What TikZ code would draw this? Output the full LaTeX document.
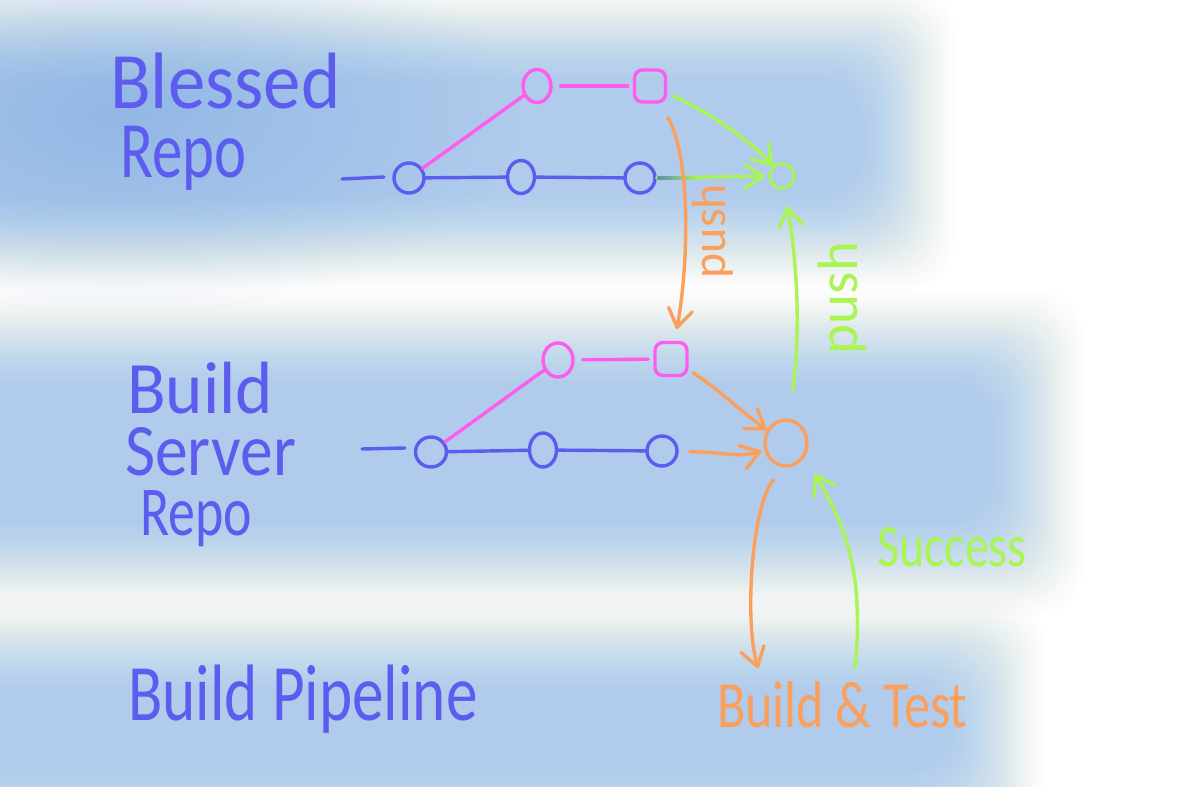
\documentclass[tikz,border=0pt]{standalone}
\usepackage{graphicx}
\usepackage{fontspec}
\setmainfont{Carlito}
\usetikzlibrary{arrows.meta,fadings,shapes.geometric,calc}
\definecolor{ink}{RGB}{92,92,238}
\definecolor{pinkink}{RGB}{255,92,238}
\definecolor{greenink}{RGB}{168,245,84}
\definecolor{orangeink}{RGB}{250,160,92}
\definecolor{bandcol}{RGB}{170,203,236}
\definecolor{spotcol}{RGB}{110,160,222}
\definecolor{mixink}{RGB}{100,140,175}
\tikzfading[name=softspot, inner color=transparent!0, outer color=transparent!100]
\newcommand{\softband}[4]{%
  \foreach \k in {1,...,50}{%
    \pgfmathsetmacro{\tA}{(\k-1)/50}%
    \pgfmathsetmacro{\tB}{\k/50}%
    \pgfmathsetmacro{\fA}{0.8*(3*\tA*\tA-2*\tA*\tA*\tA)}%
    \pgfmathsetmacro{\fB}{0.8*(3*\tB*\tB-2*\tB*\tB*\tB)}%
    \pgfmathsetmacro{\op}{(\fB-\fA)/(1-\fA)}%
    \fill[bandcol, opacity=\op, rounded corners=50pt] (#1+\k*2,#2+\k*2) rectangle (#3-\k*2,#4-\k*2);
  }}
\begin{document}
\begin{tikzpicture}[x=1pt,y=-1pt,
  ln/.style={line width=3.4pt, line cap=round, line join=round},
  arr/.style={ln, -{Straight Barb[length=18pt,width=24pt,round]}},
  bnode/.style={ellipse, draw=ink, ln, inner sep=0pt},
  pnode/.style={ellipse, draw=pinkink, ln, inner sep=0pt},
  psq/.style={rectangle, rounded corners=8pt, draw=pinkink, ln, inner sep=0pt},
  lbl/.style={text=ink, inner sep=0pt, anchor=base west},
  stack/.style={text=ink, inner sep=0pt, anchor=north west, align=left},
  bigfont/.style={font=\fontsize{80}{80}\selectfont}
]
\fill[white] (0,0) rectangle (1181,787);
\useasboundingbox (0,0) rectangle (1181,787);
% background bands
\softband{-150}{-20}{960}{295}
\softband{-150}{285}{1090}{620}
\softband{-150}{590}{1050}{870}
\fill[spotcol, opacity=0.45, path fading=softspot] (-280,-85) rectangle (520,315);

% labels
\node[stack, font=\fontsize{80}{69}\selectfont] (tBlessedRepo) at (110,48)
  {\rule{0pt}{60pt}\scalebox{0.935}[1]{Blessed}\\\hspace*{10pt}\scalebox{0.76}[1]{Repo}};
\node[stack, font=\fontsize{74}{62}\selectfont] (tBuildServer) at (125,353)
  {\rule{0pt}{60pt}\hspace*{2pt}\scalebox{0.96}[1]{Build}\\\scalebox{0.886}[1]{Server}\\[-2pt]\hspace*{15pt}\scalebox{0.728}[0.946]{Repo}};
\node[lbl, bigfont, xscale=0.79] (tPipe) at (128,720) {Build Pipeline};

% Blessed repo commits
\coordinate (la) at (342,179);
\coordinate (lb) at (384,177);
\node[bnode, minimum width=30, minimum height=30] (b1) at (409,178) {};
\node[bnode, minimum width=27, minimum height=33] (b2) at (521,177) {};
\node[bnode, minimum width=30, minimum height=30] (b3) at (640,178) {};
\node[pnode, minimum width=28, minimum height=33] (p1) at (537,86) {};
\node[psq, minimum width=31, minimum height=32] (p2) at (650,86) {};
\node[ellipse, draw=greenink, ln, line width=3pt, inner sep=0pt, minimum width=24, minimum height=25] (g) at (782,176) {};
\draw[ln, ink] (la) -- (lb);
\draw[ln, ink] (b1) -- (b2);
\draw[ln, ink] (b2) -- (b3);
\draw[ln, pinkink] (b1) -- (p1);
\draw[ln, pinkink, shorten <=8pt, shorten >=5pt] (p1) -- (p2);

% Build server repo commits
\coordinate (lc) at (362,449);
\coordinate (ld) at (405,448);
\node[bnode, minimum width=31, minimum height=30] (bb1) at (431,452) {};
\node[bnode, minimum width=27, minimum height=34] (bb2) at (543,450) {};
\node[bnode, minimum width=30, minimum height=30] (bb3) at (662,451) {};
\node[pnode, minimum width=30, minimum height=34] (bp1) at (558,360) {};
\node[psq, minimum width=32, minimum height=33] (bp2) at (671,359) {};
\node[ellipse, draw=orangeink, ln, inner sep=0pt, minimum width=42, minimum height=46] (o) at (786,443) {};
\draw[ln, ink] (lc) -- (ld);
\draw[ln, ink] (bb1) -- (bb2);
\draw[ln, ink] (bb2) -- (bb3);
\draw[ln, pinkink] (bb1) -- (bp1);
\draw[ln, pinkink, shorten <=8pt, shorten >=5pt] (bp1) -- (bp2);

% arrows top
\draw[arr, greenink, shorten >=4pt] (b3) -- (g);
\shade[left color=mixink, right color=greenink] ($(b3.east)+(1,-1.7)$) rectangle ($(b3.east)+(42,1.7)$);
\draw[arr, greenink, shorten <=7pt] (p2) .. controls (705,110) and (750,140) .. (g);
\draw[arr, orangeink, shorten <=16pt, shorten >=12pt] (p2) .. controls (692,160) and (688,270) .. (bp2);
\node[font=\fontsize{48}{48}\selectfont, text=orangeink, rotate=90, anchor=base, inner sep=0pt] (pushA) at (725,231) {push};

% arrows middle
\draw[arr, orangeink, shorten <=5pt] (bp2) .. controls (720,390) and (745,415) .. (o);
\draw[arr, orangeink, shorten <=11pt, shorten >=3pt] (bb3) .. controls (720,452) and (740,458) .. (o);
\draw[arr, greenink, shorten <=28pt, shorten >=17pt] (o) .. controls (802,320) and (795,250) .. (g);
\node[font=\fontsize{57}{57}\selectfont, text=greenink, rotate=90, anchor=base, inner sep=0pt] (pushB) at (857,298) {push};

% pipeline
\node[font=\fontsize{66}{66}\selectfont, text=orangeink, anchor=base west, inner sep=0pt, xscale=0.79] (bt) at (717,727) {Build \& Test};
\node[font=\fontsize{60}{60}\selectfont, text=greenink, anchor=base west, inner sep=0pt, xscale=0.8] (succ) at (877,566) {Success};
\coordinate (btin) at (758,668);
\coordinate (btout) at (855,668);
\draw[arr, orangeink, shorten <=16pt] (o.-95) .. controls (752,505) and (744,620) .. (btin);
\draw[arr, greenink, shorten >=20pt] (btout) .. controls (866,560) and (838,515) .. (o.-35);
\end{tikzpicture}
\end{document}
